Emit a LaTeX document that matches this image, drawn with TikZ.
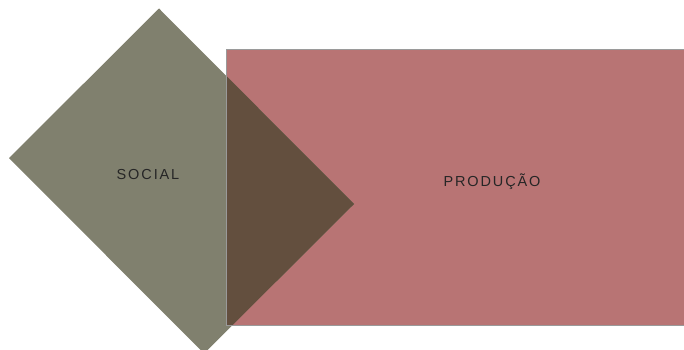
\documentclass[tikz,border=0pt]{standalone}
\usepackage{fontspec}
\setmainfont{Liberation Sans}
\newfontfamily\areafont[LetterSpace=13]{Liberation Sans}
\definecolor{social-fill}{HTML}{80806E}
\definecolor{producao-fill}{HTML}{B87474}
\definecolor{overlap-fill}{HTML}{634F3E}
\definecolor{area-line}{HTML}{9A9A9A}
\definecolor{area-text}{HTML}{262626}

\begin{document}
\begin{tikzpicture}
		[x=1pt, y=-1pt,
		social/.style ={fill=social-fill, draw=none},
		producao/.style ={fill=producao-fill, draw=none},
		overlap/.style ={fill=overlap-fill, draw=none},
		border/.style ={draw=area-line, line width=0.9pt},
		areatext/.style ={text=area-text, font=\areafont\fontsize{14.5}{16}\selectfont, inner sep=0pt},
		]

		\useasboundingbox (0,0) rectangle (684,350);

		% corners of the two areas
		\coordinate (prod-nw) at (226,49.5);
		\coordinate (prod-se) at (685,325);
		\coordinate (soc-left) at (9,158);
		\coordinate (soc-top) at (159,8.5);
		\coordinate (soc-right) at (354,204);
		\coordinate (soc-bottom) at (204,353.5);

		\fill[producao] (prod-nw) rectangle (prod-se);
		\fill[social] (soc-left) -- (soc-top) -- (soc-right) -- (soc-bottom) -- cycle;
		\begin{scope}
			\clip (prod-nw) rectangle (prod-se);
			\fill[overlap] (soc-left) -- (soc-top) -- (soc-right) -- (soc-bottom) -- cycle;
		\end{scope}
		\draw[border] (prod-nw) rectangle (prod-se);

		\draw (148,175) node[areatext] (social) {SOCIAL};
		\draw (492,182) node[areatext] (producao) {PRODUÇÃO};
	\end{tikzpicture}
\end{document}
